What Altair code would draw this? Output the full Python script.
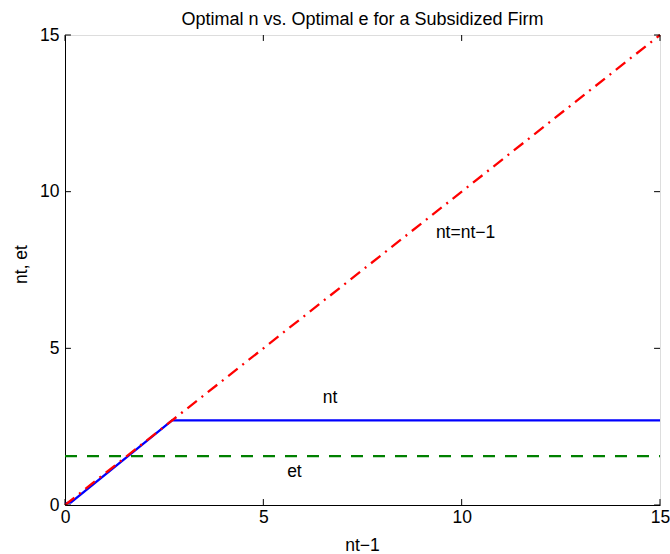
import altair as alt
import pandas as pd

# data
diag_x = [0, 15]
diag_y = [0, 15]
nt_x = [0, 0.15, 2.7, 15]
nt_y = [0.05, 0.08, 2.7, 2.7]
et_x = [0, 15]
et_y = [1.56, 1.56]
ticks = [0, 5, 10, 15]
labels = ["nt=nt\u22121", "nt", "et"]
label_x = [9.35, 6.5, 5.6]
label_y = [8.52, 3.26, 0.89]

xs = alt.Scale(domain=[0, 15], nice=False, zero=False)
ys = alt.Scale(domain=[0, 15], nice=False, zero=False)

FONT = "Liberation Sans"
FS = 17.5

base_x = alt.X("x:Q", scale=xs, axis=alt.Axis(
    values=ticks, title="nt\u22121", ticks=False, labelFontSize=FS, labelPadding=3,
    labelFlush=False, labelOverlap=False,
    labelColor="black", domainColor="black", grid=False, labelFont=FONT,
    titleFont=FONT, titleFontSize=FS, titleFontWeight="normal", titleColor="black",
    titleX=297, titleY=45, titleBaseline="alphabetic"))
base_y = alt.Y("y:Q", scale=ys, axis=alt.Axis(
    values=ticks, title="nt, et", ticks=False, labelFontSize=FS, labelPadding=6,
    labelFlush=False, labelOverlap=False,
    labelColor="black", domainColor="black", grid=False, labelFont=FONT,
    titleFont=FONT, titleFontSize=FS, titleFontWeight="normal", titleColor="black",
    titleX=-44, titleY=229, titleAngle=-90, titleAlign="center", titleBaseline="middle"))

nt_df = pd.DataFrame({"x": nt_x, "y": nt_y})
et_df = pd.DataFrame({"x": et_x, "y": et_y})
dg_df = pd.DataFrame({"x": diag_x, "y": diag_y})

nt_line = alt.Chart(nt_df).mark_line(color="#0000ff", strokeWidth=2.3).encode(x=base_x, y=base_y)
et_line = alt.Chart(et_df).mark_line(color="#008000", strokeWidth=2.3, strokeDash=[12, 10]).encode(x="x:Q", y="y:Q")
dg_line = alt.Chart(dg_df).mark_line(color="#ff0000", strokeWidth=2.3, strokeDash=[12, 6, 2, 6]).encode(x="x:Q", y="y:Q")

lab_df = pd.DataFrame({"x": label_x, "y": label_y, "t": labels})
txt = alt.Chart(lab_df).mark_text(font=FONT, fontSize=FS, align="left", baseline="alphabetic",
                                  color="black").encode(x="x:Q", y="y:Q", text="t:N")

# inward ticks on all four sides
tx = pd.DataFrame({"v": ticks})
bottom_t = alt.Chart(tx).mark_rule(color="black", strokeWidth=1).encode(
    x="v:Q", y=alt.datum(0), y2=alt.datum(0.19))
top_t = alt.Chart(tx).mark_rule(color="black", strokeWidth=1).encode(
    x="v:Q", y=alt.datum(15), y2=alt.datum(14.81))
left_t = alt.Chart(tx).mark_rule(color="black", strokeWidth=1).encode(
    y="v:Q", x=alt.datum(0), x2=alt.datum(0.15))
right_t = alt.Chart(tx).mark_rule(color="black", strokeWidth=1).encode(
    y="v:Q", x=alt.datum(15), x2=alt.datum(14.85))

chart = alt.layer(nt_line, et_line, dg_line, txt, bottom_t, top_t, left_t, right_t).properties(
    width=595, height=470,
    title=alt.TitleParams("Optimal n vs. Optimal e for a Subsidized Firm", font=FONT,
                          fontSize=18, fontWeight="normal", color="black", offset=0, dy=3),
    autosize=alt.AutoSizeParams(type="none"),
    padding={"left": 65, "top": 35, "right": 10, "bottom": 49},
).configure_view(stroke="black", strokeWidth=1).configure(background="white")

chart.save("out.html", embed_options={"renderer": "svg", "actions": False})
